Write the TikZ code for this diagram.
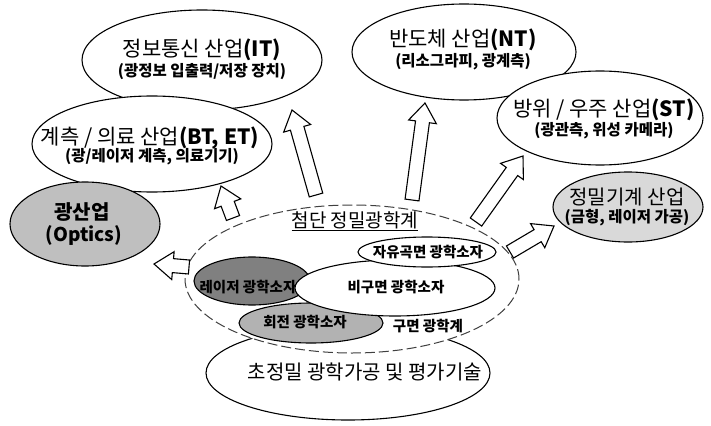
\documentclass[tikz,border=0pt]{standalone}
\usepackage{fontspec}
\newfontfamily\kr{Noto Sans CJK KR}
\usetikzlibrary{calc,shapes.geometric}
\newcommand\blockarr[2]{%
  \path ($(#2)!19pt!(#1)$) coordinate (hb);
  \draw[arrowbox] ($(#1)!7pt!90:(#2)$) -- ($(hb)!7pt!90:(#2)$) -- ($(hb)!14pt!90:(#2)$) -- (#2)
    -- ($(hb)!14pt!-90:(#2)$) -- ($(hb)!7pt!-90:(#2)$) -- ($(#1)!7pt!-90:(#2)$) -- cycle;
}
\begin{document}
\begin{tikzpicture}[x=1pt,y=-1pt,
  ell/.style={ellipse, draw=black, line width=1.1pt, fill=white, inner sep=0pt},
  bigtxt/.style={font=\kr\fontsize{21}{23}\selectfont, inner sep=0pt},
  subtxt/.style={font=\kr\bfseries\fontsize{15.5}{17}\selectfont, inner sep=0pt},
  intxt/.style={font=\kr\bfseries\fontsize{14.5}{16}\selectfont, inner sep=0pt},
  arrowbox/.style={draw=black, line width=1.1pt, fill=white, line join=miter},
  dashell/.style={ellipse, draw=black!75, line width=1pt, dash pattern=on 10pt off 4pt, fill=white, inner sep=0pt}]
\useasboundingbox (0,0) rectangle (711,425);
\fill[white] (0,0) rectangle (711,425);

% outer industry ellipses
\node[ell, minimum width=240, minimum height=100] (it) at (202,60) {};
\node[ell, minimum width=224, minimum height=96] (nt) at (464,52) {};
\node[ell, minimum width=240, minimum height=96] (bt) at (152,144) {};
\node[ell, minimum width=206, minimum height=94] (st) at (600,118) {};
\node[ell, fill=black!25, minimum width=150, minimum height=84] (opt) at (85,224) {};
\node[ell, fill=black!15, minimum width=150, minimum height=70] (pre) at (628,207) {};

\node[bigtxt] (itA) at (202,50) {정보통신 산업\textbf{(IT)}};
\node[subtxt] (itB) at (202,72) {(광정보 입출력/저장 장치)};
\node[bigtxt] (ntA) at (463,40) {반도체 산업\textbf{(NT)}};
\node[subtxt] (ntB) at (463,62) {(리소그라피, 광계측)};
\node[bigtxt] (stA) at (604,110) {방위 / 우주 산업\textbf{(ST)}};
\node[subtxt] (stB) at (604,131) {(광관측, 위성 카메라)};
\node[bigtxt] (btA) at (150,138) {계측 / 의료 산업\textbf{(BT, ET)}};
\node[subtxt] (btB) at (152,157) {(광/레이저 계측, 의료기기)};
\node[bigtxt, font=\kr\bfseries\fontsize{20}{22}\selectfont] (optA) at (82,212) {광산업};
\node[bigtxt, font=\kr\bfseries\fontsize{19}{21}\selectfont] (optB) at (84,235) {(Optics)};
\node[bigtxt, font=\kr\fontsize{20}{22}\selectfont] (preA) at (627,197) {정밀기계 산업};
\node[subtxt] (preB) at (627,218) {(금형, 레이저 가공)};

% bottom base ellipse and central dashed ellipse
\node[ell, minimum width=284, minimum height=94] (base) at (348,373) {};
\node[bigtxt, font=\kr\fontsize{20}{22}\selectfont] (baseT) at (365,372) {초정밀 광학가공 및 평가기술};
\node[dashell, minimum width=334, minimum height=148] (core) at (352,279) {};
\node[bigtxt, font=\kr\fontsize{19}{21}\selectfont] (coreT) at (355,221) {\underline{첨단 정밀광학계}};

% inner elements
\node[ell, fill=black!50, minimum width=116, minimum height=48] (laser) at (252,281) {};
\node[intxt] (laserT) at (248,287) {레이저 광학소자};
\node[ell, fill=black!30, minimum width=144, minimum height=40] (rot) at (311,323) {};
\node[intxt] (rotT) at (305,322) {회전 광학소자};
\node[ell, minimum width=200, minimum height=56] (asph) at (395,288) {};
\node[intxt] (asphT) at (396,287) {비구면 광학소자};
\node[ell, minimum width=138, minimum height=30] (free) at (427,252) {};
\node[intxt] (freeT) at (428,252) {자유곡면 광학소자};
\node[intxt] (sphT) at (428,326) {구면 광학계};

% block arrows
\coordinate (a1s) at (189,267); \coordinate (a1e) at (154,264);
\coordinate (a2s) at (233,218); \coordinate (a2e) at (221,186);
\coordinate (a3s) at (316,195); \coordinate (a3e) at (292,110);
\coordinate (a4s) at (412,200); \coordinate (a4e) at (425,103);
\coordinate (a5s) at (476,222); \coordinate (a5e) at (523,156);
\coordinate (a6s) at (510,252); \coordinate (a6e) at (554,226);
\blockarr{a1s}{a1e}
\blockarr{a2s}{a2e}
\blockarr{a3s}{a3e}
\blockarr{a4s}{a4e}
\blockarr{a5s}{a5e}
\blockarr{a6s}{a6e}
\end{tikzpicture}
\end{document}
